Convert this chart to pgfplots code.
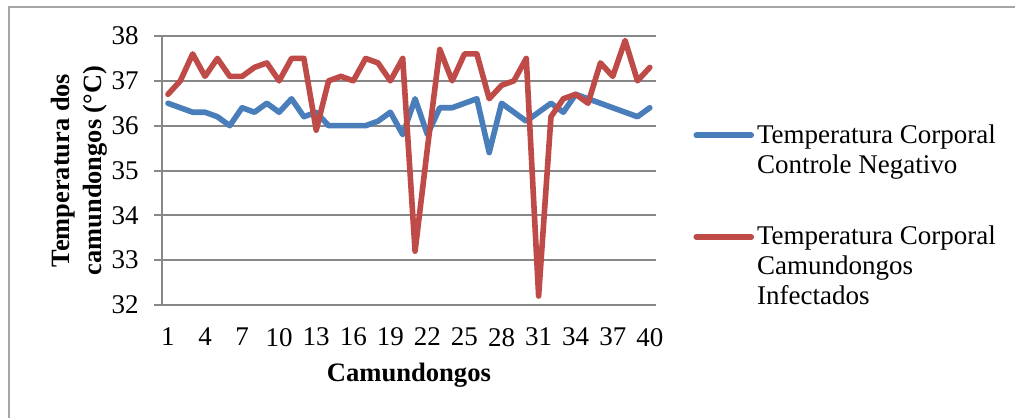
\documentclass[border=0pt]{standalone}
\usepackage{fontspec}
\setmainfont{Liberation Serif}
\usepackage{pgfplots}
\pgfplotsset{compat=1.18}
\usepackage{pgfplotstable}
\definecolor{serA}{HTML}{4A7EBB}
\definecolor{serB}{HTML}{BE4B48}
\definecolor{gridc}{HTML}{878787}
\definecolor{framec}{HTML}{A6A6A6}
\pgfplotstableread{
x blue red
1 36.5 36.7
2 36.4 37.0
3 36.3 37.6
4 36.3 37.1
5 36.2 37.5
6 36.0 37.1
7 36.4 37.1
8 36.3 37.3
9 36.5 37.4
10 36.3 37.0
11 36.6 37.5
12 36.2 37.5
13 36.3 35.9
14 36.0 37.0
15 36.0 37.1
16 36.0 37.0
17 36.0 37.5
18 36.1 37.4
19 36.3 37.0
20 35.8 37.5
21 36.6 33.2
22 35.8 35.5
23 36.4 37.7
24 36.4 37.0
25 36.5 37.6
26 36.6 37.6
27 35.4 36.6
28 36.5 36.9
29 36.3 37.0
30 36.1 37.5
31 36.3 32.2
32 36.5 36.2
33 36.3 36.6
34 36.7 36.7
35 36.6 36.5
36 36.5 37.4
37 36.4 37.1
38 36.3 37.9
39 36.2 37.0
40 36.4 37.3
}\data
\begin{document}
\begin{tikzpicture}
\useasboundingbox (0,0) rectangle (507.5pt,208.5pt);
\draw[framec, line width=1pt] (4.5pt,-2pt) -- (4.5pt,205pt) -- (510pt,205pt);
\begin{axis}[
  at={(80.9pt,56pt)}, anchor=south west,
  scale only axis, width=247.1pt, height=134.5pt,
  xmin=0.5, xmax=40.5, ymin=32, ymax=38,
  xtick={1,4,...,40}, ytick={32,33,...,38},
  axis x line*=bottom, axis y line*=left,
  axis line style={gridc, line width=1pt},
  ymajorgrids, grid style={gridc, line width=1pt},
  tick align=outside, major tick length=4pt,
  ytick style={gridc, line width=1pt},
  xtick style={draw=none},
  /pgf/number format/assume math mode=true,
  tick label style={font=\fontsize{13.5}{15}\selectfont},
  yticklabel style={xshift=-4pt},
  xticklabel style={yshift=-4pt},
  xlabel={\textbf{Camundongos}},
  xlabel style={at={(axis description cs:0.5,-0.26)}, anchor=center, font=\fontsize{13.3}{15}\selectfont},
  ylabel={\textbf{Temperatura dos}\\\textbf{camundongos (°C)}},
  ylabel style={at={(axis description cs:-0.1676,0.5)}, anchor=center, align=center, font=\fontsize{13.2}{16}\selectfont},
  clip=false,
  legend cell align=left,
  legend image code/.code={\draw[#1] (0pt,0pt) -- (27.5pt,0pt);},
  legend style={at={(axis description cs:1.075,0.673)}, anchor=north west,
    draw=none, fill=none, inner sep=0pt, column sep=1.5pt, row sep=40pt,
    nodes={inner sep=0pt}, font=\fontsize{13.5}{15}\selectfont},
]
\addplot[serA, line width=2.8pt, line join=round, line cap=round] table[x=x, y=blue] {\data};
\addlegendentry{\parbox[t]{140pt}{Temperatura Corporal\\Controle Negativo}}
\addplot[serB, line width=2.8pt, line join=round, line cap=round] table[x=x, y=red] {\data};
\addlegendentry{\parbox[t]{140pt}{Temperatura Corporal\\Camundongos\\Infectados}}
\end{axis}
\end{tikzpicture}
\end{document}
